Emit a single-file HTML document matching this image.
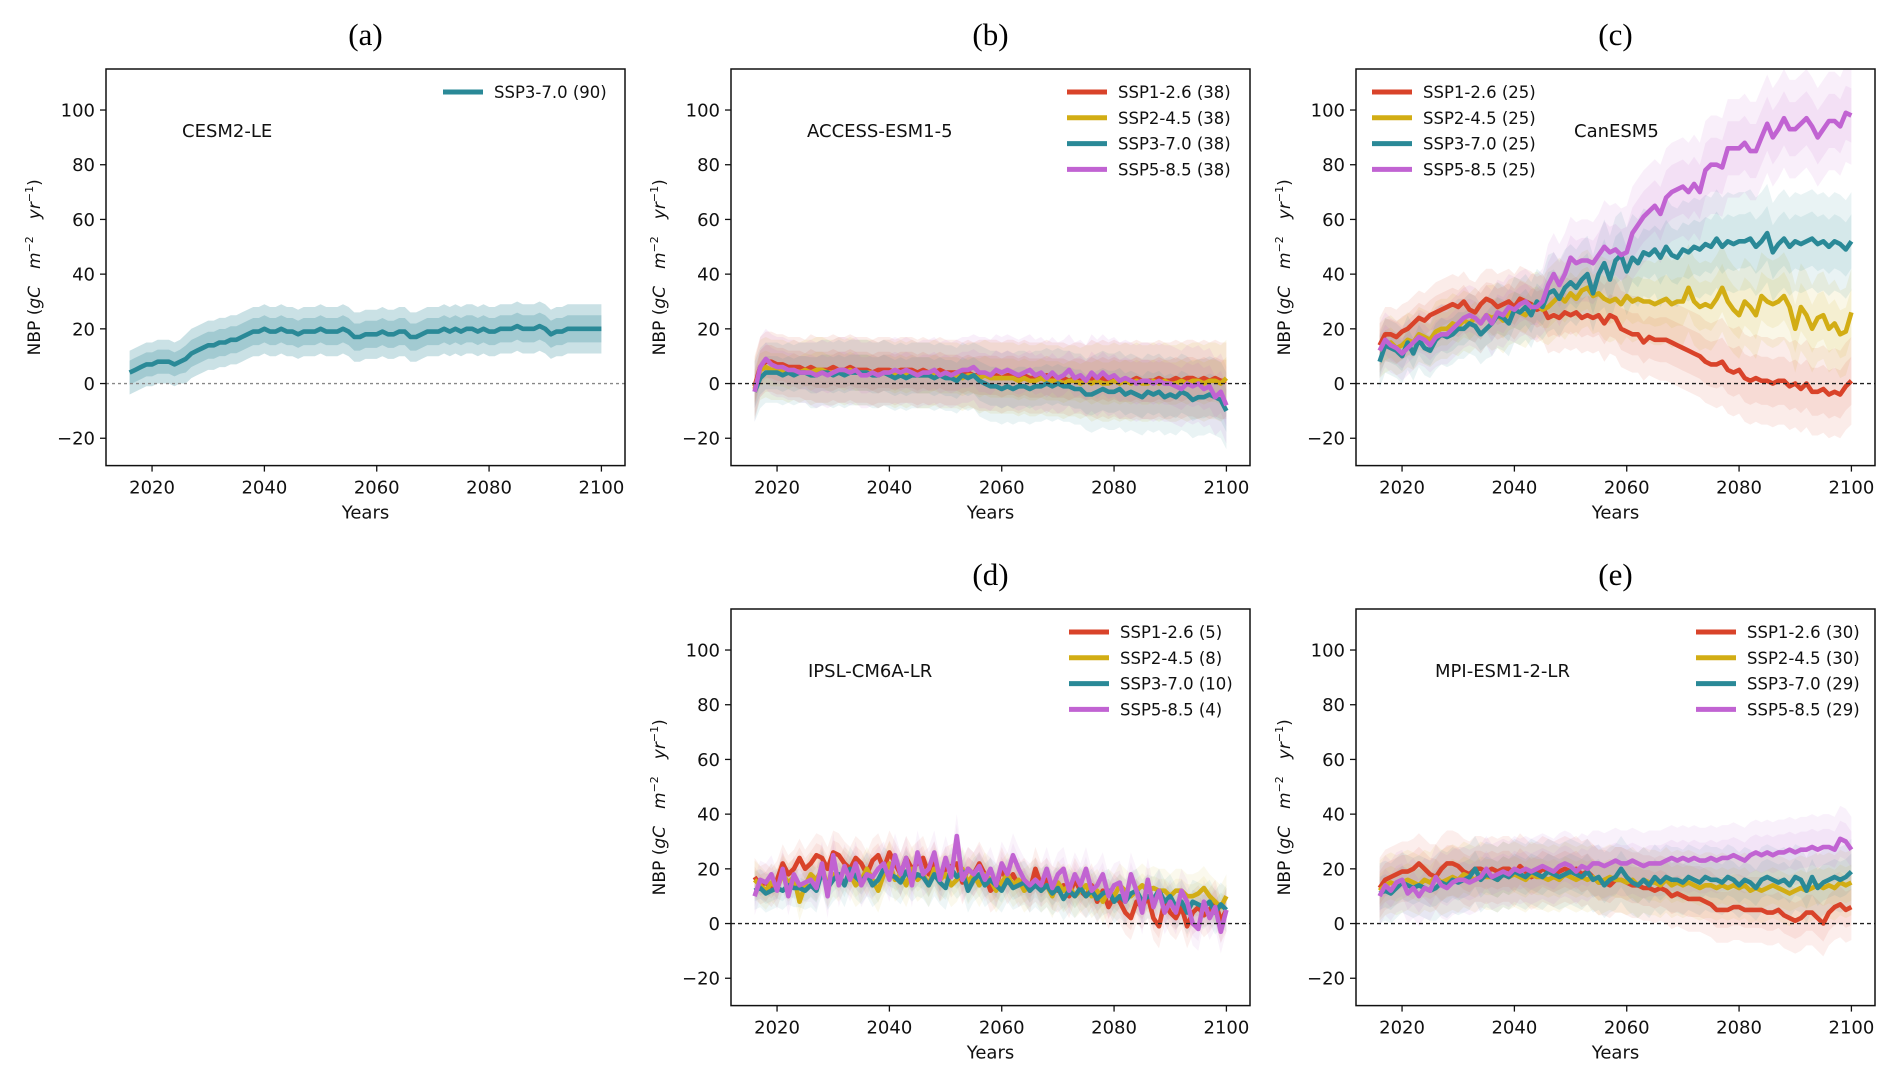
<!DOCTYPE html>
<html><head><meta charset="utf-8">
<style>
html,body{margin:0;padding:0;background:#fff;}
svg{display:block;}
text{font-family:"DejaVu Sans","Liberation Sans",sans-serif;}
</style></head>
<body>
<svg id="fig" xmlns="http://www.w3.org/2000/svg" width="1892" height="1080" viewBox="0 0 1892 1080"></svg>
<script>
// ---------- DATA (years 2016..2100) ----------
const startYear = 2016;
const xTicks = [2020, 2040, 2060, 2080, 2100];
const yTicks = [-20, 0, 20, 40, 60, 80, 100];
const yTickLabels = ["\u221220", "0", "20", "40", "60", "80", "100"];
const scenarioNames = ["SSP1-2.6", "SSP2-4.5", "SSP3-7.0", "SSP5-8.5"];

const cesmTeal = [4,5,6,7,7,8,8,8,7,8, 9,11,12,13,14,14,15,15,16,16, 17,18,19,19,20,19,19,20,19,19, 18,19,19,19,20,19,19,19,20,19, 17,17,18,18,18,19,18,18,19,19, 17,17,18,19,19,19,20,19,20,19, 20,20,19,20,19,19,20,20,20,21, 20,20,20,21,20,18,19,19,20,20, 20,20,20,20,20];
const cesmSpread = [8,9,9,9,9,9,9,9,9];
const cesmCounts = [90];

const accRed = [-1,6,8,8,7,7,6,6,6,5, 6,5,5,5,6,5,5,6,5,5, 5,4,5,5,5,4,5,5,5,4, 5,4,4,5,4,4,4,3,4,3, 3,3,3,3,2,3,3,2,3,2, 2,2,3,2,2,2,1,2,2,1, 2,1,2,1,2,1,1,1,2,1, 1,1,2,1,1,2,1,2,2,1, 2,1,2,1,1];
const accYellow = [-2,5,6,5,5,5,4,5,4,5, 4,5,5,4,4,5,4,5,4,4, 4,4,3,4,4,3,4,3,4,3, 3,3,4,3,3,3,3,2,3,3, 2,3,2,2,2,2,2,1,2,1, 1,2,1,1,1,0,1,1,0,1, 0,1,0,0,1,0,1,0,1,0, 0,1,0,1,0,0,1,0,1,1, 0,1,1,0,2];
const accTeal = [-3,2,4,4,4,3,4,3,4,4, 3,3,4,4,3,4,3,4,4,4, 4,3,3,4,3,2,3,2,3,3, 3,3,2,3,2,2,1,3,2,3, 1,0,-1,-1,-2,-1,-2,-1,-1,-2, -1,-1,0,-1,0,-1,-1,-2,-2,-4, -4,-3,-2,-3,-3,-2,-4,-3,-4,-5, -3,-4,-3,-5,-4,-5,-3,-4,-6,-5, -5,-4,-5,-6,-10];
const accMagenta = [-3,6,9,7,6,6,5,5,4,4, 4,3,4,3,4,5,5,4,5,3, 3,4,3,4,4,5,4,5,4,3, 4,4,5,3,4,3,4,5,5,6, 4,4,3,5,4,5,4,3,4,5, 3,4,2,4,2,3,5,2,3,1, 4,2,4,2,3,1,2,1,0,1, 1,0,1,0,0,-1,-2,0,-1,0, -2,-1,-5,-3,-8];
const accSpread = [11,12,12,12,13,13,14,14,14];
const accCounts = [38,38,38,38];

const canRed = [14,18,18,17,19,20,22,24,23,25, 26,27,28,29,28,30,27,26,29,31, 30,28,29,30,28,31,30,29,27,28, 24,25,24,26,25,26,24,25,24,25, 22,25,24,20,19,18,18,15,17,16, 16,16,15,14,13,12,11,10,8,7, 7,8,5,4,5,2,1,2,1,1, 0,1,1,-1,0,-2,0,-3,-3,-2, -4,-3,-4,-1,1];
const canYellow = [12,14,15,13,14,16,15,18,17,16, 19,20,20,22,21,23,22,24,22,25, 24,25,23,26,27,26,25,28,29,27, 28,30,32,30,33,31,34,35,32,33, 31,30,31,29,32,30,31,30,30,29, 30,31,29,30,30,35,30,28,29,28, 31,35,30,27,25,30,28,25,32,30, 29,30,32,28,20,28,25,20,24,25, 20,22,18,19,26];
const canTeal = [8,14,13,12,10,15,11,16,13,12, 16,18,17,18,20,20,22,21,18,20, 22,25,24,22,27,26,28,25,30,28, 33,34,31,35,37,35,38,40,33,40, 44,38,45,47,41,46,44,48,47,49, 46,50,47,46,49,48,50,49,51,50, 53,50,52,51,52,52,53,50,52,55, 48,51,53,50,52,51,52,53,51,52, 50,52,51,49,52];
const canMagenta = [12,16,14,13,11,13,15,17,16,14, 17,18,18,20,22,24,25,24,22,25, 22,26,25,28,27,29,30,28,28,30, 36,40,36,40,46,44,45,45,44,47, 50,48,49,47,48,55,58,61,63,65, 62,68,70,71,72,70,73,70,78,80, 80,79,86,86,86,88,85,85,90,95, 90,93,97,93,93,95,97,94,90,93, 96,96,94,99,98];
const canSpreadRed = [10,11,12,13,14,15,16,16,16];
const canSpreadYellow = [10,11,12,14,15,16,16,16,16];
const canSpreadTeal = [10,11,12,14,16,18,18,18,18];
const canSpreadMagenta = [10,11,12,15,17,18,18,18,18];
const canCounts = [25,25,25,25];

const ipslRed = [17,14,15,13,16,22,18,20,24,20, 22,25,24,20,26,25,22,20,24,22, 18,23,25,20,26,22,18,24,20,22, 24,18,22,16,20,21,22,15,20,18, 22,18,12,14,20,15,18,14,16,12, 20,14,16,13,12,14,10,16,12,10, 14,8,12,6,10,8,4,2,8,6, 10,2,-1,8,4,2,6,-1,4,6, 3,5,8,1,5];
const ipslYellow = [16,14,12,15,13,18,15,17,8,14, 18,16,20,14,18,16,20,18,14,16, 20,16,12,18,22,16,18,14,20,16, 18,14,20,16,18,14,16,20,15,18, 14,18,16,12,15,18,14,16,12,14, 16,12,14,10,15,12,14,10,12,14, 10,12,8,12,10,14,12,10,12,14, 12,13,12,12,10,12,12,10,10,11, 13,10,8,6,10];
const ipslTeal = [12,13,11,12,13,12,14,13,13,12, 14,12,19,13,16,18,14,20,17,15, 18,14,16,20,18,17,15,19,16,18, 17,14,18,15,13,20,17,19,12,16, 18,14,16,14,12,16,13,14,15,12, 14,12,14,11,13,9,12,10,13,10, 12,9,11,12,8,10,8,11,12,8, 10,9,12,8,10,6,8,4,8,7, 6,8,4,7,5];
const ipslMagenta = [10,16,15,18,12,20,10,18,14,15, 16,13,22,10,25,14,21,16,22,14, 18,17,20,22,16,25,18,24,14,26, 18,20,26,16,24,17,32,16,20,18, 21,16,20,14,22,18,25,20,16,14, 16,14,20,13,18,20,12,18,14,20, 12,14,18,10,14,15,8,18,12,4, 16,6,12,4,8,4,12,8,0,-2, 8,2,6,-3,5];
const ipslSpread = [7,8,8,8,8,8,8,8,8];
const ipslCounts = [5,8,10,4];

const mpiRed = [13,16,17,18,19,19,20,22,20,18, 17,20,22,22,21,19,18,20,20,19, 20,19,20,20,18,21,19,17,18,20, 19,18,19,20,19,20,18,19,17,15, 15,14,16,16,15,14,14,13,13,12, 13,12,10,11,10,9,9,9,8,7, 5,5,5,6,6,5,5,5,5,4, 4,5,3,2,1,2,4,4,2,0, 4,6,7,5,6];
const mpiYellow = [12,14,15,14,15,16,15,14,16,15, 17,15,16,17,16,18,17,16,18,17, 17,16,18,17,18,17,16,18,17,17, 16,17,16,18,17,16,17,16,17,15, 16,17,16,16,15,16,14,16,15,15, 14,16,14,15,14,15,14,13,14,14, 13,14,13,14,13,14,12,13,12,13, 14,13,12,11,12,13,12,13,14,13, 14,13,15,14,15];
const mpiTeal = [11,12,11,13,15,14,13,14,13,12, 13,15,14,16,15,16,17,20,16,18, 17,16,18,17,19,18,17,19,18,17, 19,18,17,18,19,18,17,19,16,17, 14,16,17,20,17,15,14,16,14,17, 15,17,16,16,15,17,16,15,17,16, 16,15,17,16,14,16,15,13,16,17, 16,15,16,14,17,16,12,17,13,15, 16,17,16,17,19];
const mpiMagenta = [10,14,12,15,16,11,13,10,13,12, 17,14,13,15,16,16,15,16,17,20, 17,18,19,18,20,19,20,19,20,21, 20,19,21,22,21,19,21,20,22,22, 21,22,23,22,22,23,22,21,22,22, 22,23,24,23,24,23,24,23,23,24, 23,24,24,25,24,23,25,26,25,26, 25,26,26,27,26,27,27,28,27,28, 28,27,31,30,27];
const mpiSpread = [11,12,12,12,12,12,12,12,12];
const mpiCounts = [30,30,29,29];

// ---------- LAYOUT ----------
const COLORS = ["#d9432a", "#d2ad14", "#2a8997", "#c163d2"];
const NS = "http://www.w3.org/2000/svg";
const svg = document.getElementById("fig");
const PW = 519, PH = 396.6, XMIN = 2011.8, XMAX = 2104.2, YMIN = -30, YMAX = 115;

function mk(tag, attrs, parent) {
  const e = document.createElementNS(NS, tag);
  for (const k in attrs) e.setAttribute(k, attrs[k]);
  (parent || svg).appendChild(e);
  return e;
}

const panels = [
  {key:"a", x0:106, y0:69, title:"(a)", model:"CESM2-LE", mx:182, series:[cesmTeal], spreads:[cesmSpread], colors:[COLORS[2]], names:["SSP3-7.0"], counts:cesmCounts, legX:443, legTextX:494, bandOp:0.25, zeroColor:"#888", zeroDash:"3,3"},
  {key:"b", x0:731, y0:69, title:"(b)", model:"ACCESS-ESM1-5", mx:807, series:[accRed,accYellow,accTeal,accMagenta], spreads:[accSpread,accSpread,accSpread,accSpread], colors:COLORS, names:scenarioNames, counts:accCounts, legX:1067, legTextX:1118, bandOp:0.1},
  {key:"c", x0:1356, y0:69, title:"(c)", model:"CanESM5", mx:1574, series:[canRed,canYellow,canTeal,canMagenta], spreads:[canSpreadRed,canSpreadYellow,canSpreadTeal,canSpreadMagenta], colors:COLORS, names:scenarioNames, counts:canCounts, legX:1372, legTextX:1423, bandOp:0.1},
  {key:"d", x0:731, y0:609, title:"(d)", model:"IPSL-CM6A-LR", mx:808, series:[ipslRed,ipslYellow,ipslTeal,ipslMagenta], spreads:[ipslSpread,ipslSpread,ipslSpread,ipslSpread], colors:COLORS, names:scenarioNames, counts:ipslCounts, legX:1069, legTextX:1120, bandOp:0.08},
  {key:"e", x0:1356, y0:609, title:"(e)", model:"MPI-ESM1-2-LR", mx:1435, series:[mpiRed,mpiYellow,mpiTeal,mpiMagenta], spreads:[mpiSpread,mpiSpread,mpiSpread,mpiSpread], colors:COLORS, names:scenarioNames, counts:mpiCounts, legX:1696, legTextX:1747, bandOp:0.09}
];

panels.forEach(p => {
  const xS = yr => p.x0 + (yr - XMIN) * PW / (XMAX - XMIN);
  const yS = v => p.y0 + (YMAX - v) * PH / (YMAX - YMIN);
  const g = mk("g", {});
  
  

  const clip = mk("clipPath", {id:"clip-" + p.key}, g);
  mk("rect", {x:p.x0, y:p.y0, width:PW, height:PH}, clip);

  const t = mk("text", {x:p.x0 + PW/2, y:p.y0 - 24, "text-anchor":"middle", "font-size":"31", style:"font-family:'Liberation Serif',serif"}, g);
  t.textContent = p.title;
  
  

  const plot = mk("g", {"clip-path":"url(#clip-" + p.key + ")"}, g);
  // ensemble spread: outer and inner layers to mimic spaghetti density
  [1.0, 0.55].forEach(frac => {
    p.series.forEach((s, si) => {
      const up = [], lo = [];
      s.forEach((v, i) => {
        const sp = p.spreads[si][Math.min(8, Math.floor(i / 10))] * frac;
        up.push(xS(startYear + i).toFixed(1) + "," + yS(v + sp).toFixed(1));
        lo.unshift(xS(startYear + i).toFixed(1) + "," + yS(v - sp).toFixed(1));
      });
      const band = mk("polygon", {points: up.concat(lo).join(" "), fill:p.colors[si], "fill-opacity":p.bandOp, stroke:"none"}, plot);
      
      
    });
  });

  const z = mk("line", {x1:p.x0, x2:p.x0 + PW, y1:yS(0), y2:yS(0), stroke:p.zeroColor || "#222", "stroke-width":1.3, "stroke-dasharray":p.zeroDash || "4,3"}, g);
  
  

  p.series.forEach((s, si) => {
    const pts = s.map((v, i) => xS(startYear + i).toFixed(1) + "," + yS(v).toFixed(1)).join(" ");
    const l = mk("polyline", {points:pts, fill:"none", stroke:p.colors[si], "stroke-width":4.6, "stroke-linejoin":"round"}, plot);
    
    
  });

  const fr = mk("rect", {x:p.x0, y:p.y0, width:PW, height:PH, fill:"none", stroke:"#111", "stroke-width":1.5}, g);
  
  

  xTicks.forEach(yr => {
    const x = xS(yr);
    mk("line", {x1:x, x2:x, y1:p.y0 + PH, y2:p.y0 + PH + 6, stroke:"#111", "stroke-width":1.3}, g);
    const tl = mk("text", {x:x, y:p.y0 + PH + 28, "text-anchor":"middle", "font-size":"18", fill:"#111"}, g);
    tl.textContent = yr;
    
    
  });
  const xl = mk("text", {x:p.x0 + PW/2, y:p.y0 + PH + 53, "text-anchor":"middle", "font-size":"18", fill:"#111"}, g);
  xl.textContent = "Years";
  
  

  yTicks.forEach((v, i) => {
    const y = yS(v);
    mk("line", {x1:p.x0 - 6, x2:p.x0, y1:y, y2:y, stroke:"#111", "stroke-width":1.3}, g);
    const tl = mk("text", {x:p.x0 - 11, y:y + 6.5, "text-anchor":"end", "font-size":"18", fill:"#111"}, g);
    tl.textContent = yTickLabels[i];
    
    
  });
  const cy = p.y0 + PH * 0.5;
  const yl = mk("text", {x:0, y:0, transform:"translate(" + (p.x0 - 66) + "," + cy + ") rotate(-90)", "text-anchor":"middle", "font-size":"17", fill:"#111"}, g);
  yl.innerHTML = 'NBP (<tspan font-style="italic">gC</tspan>\u2003<tspan font-style="italic">m</tspan><tspan dy="-7" font-size="11">\u22122</tspan><tspan dy="7">\u2003</tspan><tspan font-style="italic">yr</tspan><tspan dy="-7" font-size="11">\u22121</tspan><tspan dy="7">)</tspan>';
  
  

  const ml = mk("text", {x:p.mx, y:p.y0 + 68, "font-size":"18", fill:"#111"}, g);
  ml.textContent = p.model;
  
  

  p.names.forEach((n, i) => {
    const ly = p.y0 + 23 + i * 25.8;
    const ll = mk("line", {x1:p.legX, x2:p.legX + 40, y1:ly, y2:ly, stroke:p.colors[i], "stroke-width":5}, g);
    
    
    const lt = mk("text", {x:p.legTextX, y:ly + 6, "font-size":"16.5", fill:"#111"}, g);
    lt.textContent = n + " (" + p.counts[i] + ")";
    
    
  });
});
</script>
</body></html>
